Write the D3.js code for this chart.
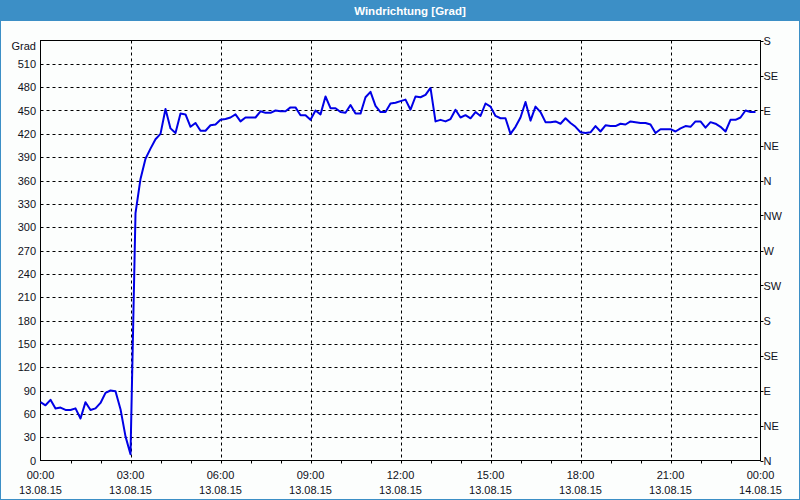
<!DOCTYPE html>
<html><head><meta charset="utf-8">
<script src="https://cdn.jsdelivr.net/npm/d3@7"></script>
<style>
html,body{margin:0;padding:0;background:#fcfefd;}
svg{display:block;}
text{font-family:"Liberation Sans",Arial,sans-serif;font-size:11px;fill:#101020;}
</style></head>
<body>
<svg id="c" width="800" height="500"></svg>
<script>
const title = "Windrichtung [Grad]";
const yUnit = "Grad";
const startTime = new Date(2015, 7, 13, 0, 0);
const endTime = new Date(2015, 7, 14, 0, 0);
const stepMinutes = 10;
const values = [75,71,78,67,68,65,65,67,54,75,65,67,74,87,90,89,66,31,8,
318,362,388,401,413,420,452,427,421,446,445,429,434,424,424,431,432,438,439,441,445,436,441,441,441,449,447,447,450,449,449,454,454,444,444,438,450,445,468,453,453,448,447,457,446,446,467,474,456,448,448,459,460,
462,464,451,468,467,470,479,436,438,436,439,451,441,444,440,448,443,459,455,443,440,440,420,429,441,461,437,455,448,435,435,436,433,440,434,429,422,421,422,430,423,431,430,430,433,432,436,435,434,434,432,421,426,426,426,423,427,430,429,436,436,428,435,433,429,423,438,438,441,450,448,448];
const yTicks = [0,30,60,90,120,150,180,210,240,270,300,330,360,390,420,450,480,510];
const dirTicks = [0,45,90,135,180,225,270,315,360,405,450,495,540];
const dirLabels = ["N","NE","E","SE","S","SW","W","NW","N","NE","E","SE","S"];

const svg = d3.select("#c");
const W = 800, H = 500;
const L = 40.5, R = 760.5, T = 40.5, B = 460.5;

svg.append("rect").attr("x",0.5).attr("y",0.5).attr("width",W-1).attr("height",H-1)
  .attr("fill","#fcfefd").attr("stroke","#3c8fc6").attr("stroke-width",1);
svg.append("rect").attr("x",0).attr("y",0).attr("width",W).attr("height",21).attr("fill","#3c8fc6");
svg.append("text").attr("x",410).attr("y",14.5).attr("text-anchor","middle")
  .style("fill","#ffffff").style("font-weight","bold").style("font-size","11.5px").text(title);

const x = d3.scaleTime().domain([startTime,endTime]).range([L,R]);
const y = d3.scaleLinear().domain([0,540]).range([B,T]);

const data = values.map((v,i)=>({t:new Date(startTime.getTime()+i*stepMinutes*60000), v}));

// grid
const g = svg.append("g");
g.selectAll("line.h").data(yTicks.filter(d=>d>0)).join("line")
  .attr("x1",L).attr("x2",R).attr("y1",d=>Math.round(y(d))+0.5).attr("y2",d=>Math.round(y(d))+0.5)
  .attr("stroke","#000").attr("stroke-dasharray","3,3").attr("stroke-width",1);
const vTicks = d3.timeHour.every(3).range(startTime,endTime).slice(1);
g.selectAll("line.v").data(vTicks).join("line")
  .attr("x1",d=>Math.round(x(d))+0.5).attr("x2",d=>Math.round(x(d))+0.5).attr("y1",T).attr("y2",B)
  .attr("stroke","#000").attr("stroke-dasharray","3,3").attr("stroke-width",1);

// frame
svg.append("rect").attr("x",L).attr("y",T).attr("width",R-L).attr("height",B-T)
  .attr("fill","none").attr("stroke","#000").attr("stroke-width",1);

// line
const line = d3.line().x(d=>x(d.t)).y(d=>y(d.v));
svg.append("path").datum(data).attr("d",line).attr("fill","none")
  .attr("stroke","#0000e6").attr("stroke-width",2).attr("stroke-linejoin","round");

// left axis labels
svg.selectAll("text.yl").data(yTicks).join("text")
  .attr("x",36).attr("y",d=>y(d)+4).attr("text-anchor","end").text(d=>d);
svg.append("text").attr("x",36).attr("y",50).attr("text-anchor","end").text(yUnit);

// right axis
svg.selectAll("line.rt").data(dirTicks).join("line")
  .attr("x1",R).attr("x2",R+3).attr("y1",d=>Math.round(y(d))+0.5).attr("y2",d=>Math.round(y(d))+0.5)
  .attr("stroke","#000");
svg.selectAll("text.rl").data(dirTicks).join("text")
  .attr("x",R+3).attr("y",d=>y(d)+4).attr("text-anchor","start").text((d,i)=>dirLabels[i]);

// bottom axis
const hourTicks = d3.timeHour.every(1).range(startTime,endTime).slice(1);
svg.selectAll("line.bt").data(hourTicks).join("line")
  .attr("x1",d=>Math.round(x(d))+0.5).attr("x2",d=>Math.round(x(d))+0.5).attr("y1",B).attr("y2",B+3)
  .attr("stroke","#000");
const labTicks = d3.timeHour.every(3).range(startTime,d3.timeMinute.offset(endTime,1));
const fT = d3.timeFormat("%H:%M"), fD = d3.timeFormat("%d.%m.%y");
svg.selectAll("text.bt1").data(labTicks).join("text")
  .attr("x",d=>x(d)).attr("y",479).attr("text-anchor","middle").text(d=>fT(d));
svg.selectAll("text.bt2").data(labTicks).join("text")
  .attr("x",d=>x(d)).attr("y",494).attr("text-anchor","middle").text(d=>fD(d));
</script>
</body></html>
